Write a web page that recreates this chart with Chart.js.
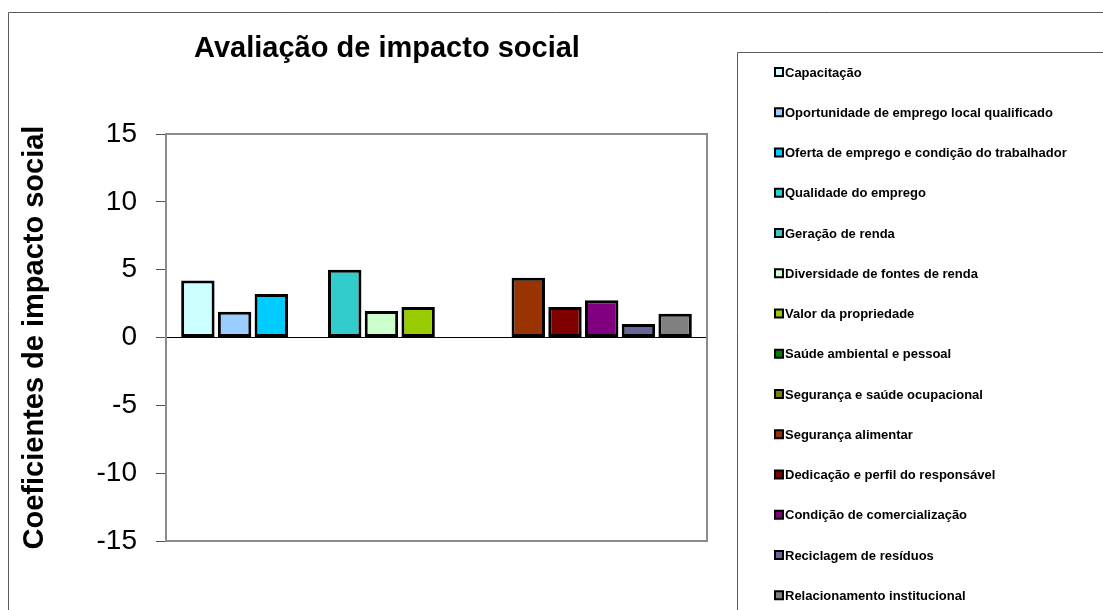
<!DOCTYPE html>
<html>
<head>
<meta charset="utf-8">
<title>Avaliação de impacto social</title>
<script src="https://cdn.jsdelivr.net/npm/chart.js@4.4.1/dist/chart.umd.min.js"></script>
<style>
    html, body { margin: 0; padding: 0; background: #fff; }
    #wrap { width: 1103px; height: 610px; }
</style>
</head>
<body>
<div id="wrap"><canvas id="chart" width="1103" height="610"></canvas></div>
<script>
    'use strict';

    var chartTitle = 'Avaliação de impacto social';
    var yAxisTitle = 'Coeficientes de impacto social';
    var categories = [''];
    var yTicks = [-15, -10, -5, 0, 5, 10, 15];

    var seriesNames = [
        'Capacitação',
        'Oportunidade de emprego local qualificado',
        'Oferta de emprego e condição do trabalhador',
        'Qualidade do emprego',
        'Geração de renda',
        'Diversidade de fontes de renda',
        'Valor da propriedade',
        'Saúde ambiental e pessoal',
        'Segurança e saúde ocupacional',
        'Segurança alimentar',
        'Dedicação e perfil do responsável',
        'Condição de comercialização',
        'Reciclagem de resíduos',
        'Relacionamento institucional'
    ];
    // null = no bar drawn for that indicator
    var seriesValues = [4.2, 1.9, 3.2, null, 5.0, 1.95, 2.25, null, null, 4.4, 2.25, 2.75, 1.0, 1.75];
    var seriesColors = [
        '#CCFFFF', '#99CCFF', '#00CCFF', '#22D4D4', '#33CCCC', '#CCFFCC', '#99CC00',
        '#008000', '#808000', '#993300', '#800000', '#800080', '#666699', '#808080'
    ];

    var FONT = "'Liberation Sans', Arial, sans-serif";

    var datasets = seriesNames.map(function(name, i) {
        return {
            label: name,
            data: [seriesValues[i]],
            backgroundColor: seriesColors[i],
            borderColor: '#000000',
            borderWidth: 3,
            borderSkipped: false,
            categoryPercentage: 0.95,
            barPercentage: 0.91
        };
    });

    // Excel-like decorations: frame, plot border, title and boxed legend
    var excelFrame = {
        id: 'excelFrame',
        beforeDatasetsDraw: function(chart) {
            var ctx = chart.ctx, a = chart.chartArea;
            ctx.save();
            ctx.strokeStyle = '#8c8c8c';
            ctx.lineWidth = 2;
            ctx.strokeRect(a.left, a.top, a.right - a.left, a.bottom - a.top);
            ctx.restore();
        },
        afterDraw: function(chart) {
            var ctx = chart.ctx;
            ctx.save();

            // outer chart border (only top/left visible)
            ctx.strokeStyle = '#5a5a5a';
            ctx.lineWidth = 1;
            ctx.beginPath();
            ctx.moveTo(8.5, chart.height);
            ctx.lineTo(8.5, 12.5);
            ctx.lineTo(chart.width, 12.5);
            ctx.stroke();

            // title
            ctx.fillStyle = '#000';
            ctx.font = 'bold 29px ' + FONT;
            ctx.textAlign = 'center';
            ctx.textBaseline = 'alphabetic';
            ctx.fillText(chartTitle, 387, 57);

            // legend box
            ctx.strokeStyle = '#5a5a5a';
            ctx.beginPath();
            ctx.moveTo(737.5, chart.height);
            ctx.lineTo(737.5, 52.5);
            ctx.lineTo(chart.width, 52.5);
            ctx.stroke();

            // legend items
            ctx.font = 'bold 13px ' + FONT;
            ctx.textAlign = 'left';
            ctx.textBaseline = 'middle';
            chart.data.datasets.forEach(function(ds, i) {
                var cy = 72 + i * 40.25;
                ctx.fillStyle = ds.backgroundColor;
                ctx.fillRect(775, cy - 4, 8, 8);
                ctx.strokeStyle = '#000';
                ctx.lineWidth = 2;
                ctx.strokeRect(775, cy - 4, 8, 8);
                ctx.fillStyle = '#000';
                ctx.fillText(ds.label, 785, cy + 1);
            });

            ctx.restore();
        }
    };

    new Chart(document.getElementById('chart'), {
        type: 'bar',
        data: {
            labels: categories,
            datasets: datasets
        },
        options: {
            responsive: false,
            animation: false,
            layout: {
                padding: { left: 10, top: 134, right: 396, bottom: 69 }
            },
            plugins: {
                legend: { display: false },
                title: { display: false },
                tooltip: { enabled: true }
            },
            scales: {
                x: {
                    display: false,
                    offset: true
                },
                y: {
                    min: yTicks[0],
                    max: yTicks[yTicks.length - 1],
                    afterFit: function(scale) { scale.width = 156; },
                    afterBuildTicks: function(scale) {
                        scale.ticks = yTicks.map(function(v) { return { value: v }; });
                    },
                    ticks: {
                        font: { family: FONT, size: 28 },
                        color: '#000',
                        padding: 19
                    },
                    grid: {
                        drawOnChartArea: true,
                        tickLength: 10,
                        tickColor: '#555555',
                        lineWidth: 1,
                        color: function(c) {
                            return c.tick && c.tick.value === 0 ? '#000000' : 'rgba(0,0,0,0)';
                        }
                    },
                    border: { display: true, color: '#555555', width: 1.5 },
                    title: {
                        display: true,
                        text: yAxisTitle,
                        color: '#000',
                        font: { family: FONT, size: 29, weight: 'bold' },
                        padding: { top: 8, bottom: 0 }
                    }
                }
            }
        },
        plugins: [excelFrame]
    });
</script>
</body>
</html>
